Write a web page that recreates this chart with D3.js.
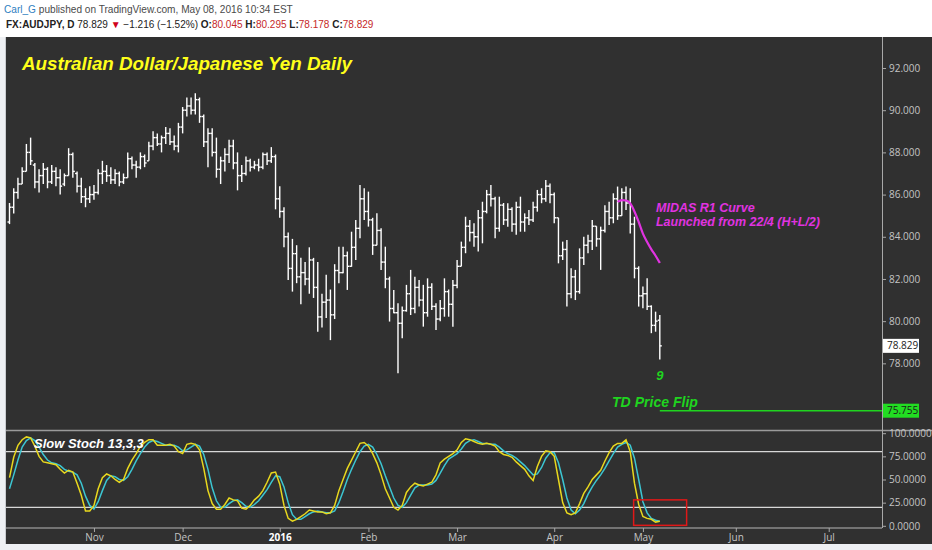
<!DOCTYPE html>
<html>
<head>
<meta charset="utf-8">
<script src="https://cdnjs.cloudflare.com/ajax/libs/d3/7.8.5/d3.min.js"></script>
<style>
  html, body { margin: 0; padding: 0; background: #ffffff; }
  svg { display: block; }
</style>
</head>
<body>
<svg id="chart" width="932" height="550"></svg>
<script>
// ---------------- DATA ----------------
const opens = [84.7,85.4,86.1,86.5,87.1,88.0,87.4,86.6,86.9,87.2,86.6,87.1,86.8,86.5,86.9,87.9,87.0,86.4,85.9,85.8,
86.0,86.1,87.0,87.1,86.9,86.7,87.0,86.6,86.8,87.7,87.4,87.3,87.8,87.6,88.3,88.7,88.4,88.7,88.9,88.5,
88.3,89.2,90.0,90.2,90.0,90.5,89.7,88.5,88.9,88.0,87.2,87.6,87.9,88.3,87.5,86.9,87.0,87.6,87.3,87.4,
87.3,87.9,87.6,87.8,85.8,85.2,84.0,82.5,83.2,82.1,82.3,82.0,82.9,81.6,80.2,80.9,81.0,80.3,82.4,82.3,
83.1,82.6,83.5,84.4,85.8,85.2,84.8,83.6,84.3,82.8,82.0,80.6,80.4,79.9,80.5,81.3,80.6,81.6,81.0,80.4,
81.6,80.7,80.1,80.6,81.4,80.8,81.7,82.6,83.5,84.5,84.2,84.0,84.9,85.2,86.0,85.8,84.4,85.5,84.8,85.3,
84.6,85.4,84.7,84.9,84.8,85.4,86.0,85.8,86.4,86.0,84.9,83.1,83.4,81.3,82.1,81.4,83.0,83.6,83.8,84.5,
83.9,84.3,85.2,84.9,85.8,85.0,86.1,85.6,84.6,82.5,81.2,81.3,80.7,79.8,80.045];
const highs = [85.6,86.3,86.8,87.3,88.4,88.7,87.5,87.2,87.5,87.3,87.4,87.3,87.2,87.0,88.2,88.0,87.1,86.8,86.3,86.4,
86.45,87.2,87.6,87.4,87.3,87.2,87.1,87.0,88.0,87.8,87.6,88.0,87.9,88.5,89.0,88.9,88.8,89.2,89.15,88.8,
89.4,90.15,90.6,90.6,90.8,90.6,89.8,89.15,89.15,88.7,87.8,88.2,88.6,88.6,88.0,87.4,87.8,87.7,87.6,87.7,
88.0,88.0,88.25,87.9,86.4,85.4,84.2,83.9,83.6,83.0,82.8,83.5,83.0,82.8,81.3,82.2,81.5,82.7,83.53,83.53,
83.3,84.24,84.8,86.45,86.3,86.14,84.9,85.11,84.4,83.53,82.11,81.48,80.85,80.69,81.72,82.43,82.11,81.95,81.72,82.03,
81.8,80.85,81.0,82.03,81.5,81.95,82.9,83.77,84.95,84.8,84.64,85.27,85.66,86.22,86.45,85.9,85.9,85.6,85.59,85.4,
85.66,85.9,85.11,85.27,85.66,86.22,86.3,86.69,86.53,86.1,84.9,83.77,83.85,82.51,82.43,83.45,84.0,84.09,84.8,84.5,
84.48,85.5,85.66,86.06,86.38,86.3,86.38,86.3,84.95,82.6,81.64,82.03,80.75,80.45,80.295];
const lows = [84.6,85.1,85.8,86.5,87.1,87.4,86.3,86.1,86.5,86.3,86.5,86.4,86.0,86.4,86.9,86.8,86.1,85.6,85.4,85.6,
85.75,86.0,86.5,86.6,86.5,86.5,86.4,86.5,86.8,87.2,86.8,87.2,87.3,87.6,88.1,88.3,88.0,88.4,88.35,88.1,
88.0,88.9,89.7,89.8,89.8,89.4,88.25,87.3,87.8,86.8,86.5,87.1,87.5,87.2,86.2,86.6,86.9,87.1,87.2,87.1,
87.2,87.4,87.5,85.3,84.9,83.5,81.95,81.4,81.8,80.8,81.7,81.3,81.1,79.5,79.7,80.15,79.1,80.1,81.8,82.27,
81.48,82.58,82.9,83.93,84.8,84.48,83.14,83.6,82.43,81.56,79.98,80.37,77.53,79.19,80.45,80.29,80.37,80.69,79.74,80.21,
80.53,79.58,80.0,80.21,80.21,79.74,81.56,82.6,83.22,83.77,83.53,83.3,83.69,85.11,85.43,83.93,84.24,84.56,84.48,84.24,
84.09,84.24,84.24,84.56,84.7,85.19,85.59,85.66,85.59,84.64,82.74,82.9,80.69,81.09,81.0,81.3,82.66,83.22,83.37,83.53,
82.43,84.2,84.56,84.64,84.8,85.0,85.27,84.16,82.03,80.69,80.61,80.53,79.43,79.5,78.178];
const closes = [85.4,86.1,86.5,87.1,88.0,87.6,86.6,86.9,87.2,86.6,87.1,86.8,86.4,86.9,87.9,87.1,86.4,85.9,85.8,86.0,
86.1,87.0,87.1,86.9,86.7,87.0,86.6,86.8,87.7,87.4,87.3,87.8,87.5,88.3,88.7,88.4,88.7,88.9,88.5,88.3,
89.2,90.0,90.2,90.0,90.5,89.7,88.5,88.9,88.0,87.2,87.6,87.9,88.3,87.5,86.9,87.0,87.6,87.3,87.4,87.3,
87.9,87.6,87.8,85.8,85.2,84.0,82.5,83.2,82.1,82.3,82.0,82.9,81.6,80.2,80.9,81.0,80.3,82.4,82.3,83.1,
82.6,83.5,84.4,85.8,85.2,84.8,83.6,84.3,82.8,82.0,80.6,80.4,79.9,80.5,81.3,80.6,81.6,81.0,80.4,81.6,
80.7,80.1,80.6,81.4,80.8,81.7,82.6,83.5,84.5,84.2,84.0,84.9,85.2,86.0,85.8,84.4,85.5,84.8,85.3,84.6,
85.4,84.7,84.9,84.8,85.4,86.0,85.8,86.4,86.0,84.9,83.1,83.4,81.3,82.1,81.4,83.0,83.6,83.8,84.5,83.9,
84.3,85.2,84.9,85.8,85.0,86.1,85.6,84.6,82.5,81.2,81.3,80.7,79.8,80.0,78.829];

// Slow Stochastic 13,3,3
const stochK = [52,74,87,93,96,95,86,75,69,68,67,66,61,57,60,58,46,33,16,16,
22,40,52,56,54,50,47,50,62,71,78,86,90,93,93,87,87,87,88,86,
80,78,88,89,88,82,62,38,24,18,18,23,30,28,27,19,18,22,28,32,
38,47,57,58,45,22,8,5,7,10,13,17,16,15,15,13,14,22,38,50,
62,71,80,89,90,86,78,68,55,40,30,20,17,22,36,42,46,44,43,45,
47,55,68,72,75,78,82,90,94,93,91,89,88,89,88,86,80,77,76,74,
69,65,61,54,49,64,75,81,80,75,50,25,14,12,14,24,35,42,50,55,
60,70,79,86,89,89,93,80,46,23,10,8,7,4,5];
const stochD = [40,55,71,85,92,95,92,85,77,71,68,67,65,61,59,58,55,46,32,22,
18,26,38,49,54,53,50,49,53,61,70,78,85,90,92,91,89,87,87,87,
85,81,82,85,88,86,77,61,41,27,20,20,24,27,28,25,21,20,23,27,
33,39,47,54,53,42,25,12,7,7,10,13,15,16,15,14,14,16,25,37,
50,61,71,80,86,88,85,77,67,54,42,30,22,20,25,33,41,44,44,44,
45,49,57,65,72,75,78,83,89,92,93,91,89,89,88,88,85,81,78,76,
73,69,65,60,55,56,63,73,79,79,68,50,30,17,13,17,24,34,42,49,
55,62,70,78,85,88,90,87,73,50,26,14,8,6,5];

const midasStart = 144;
const midasValues = [85.65,85.74,85.72,85.58,85.2,84.7,84.15,83.75,83.4,83.1,82.76];

const priceTicks = [76,78,80,82,84,86,88,90,92];
const stochTicks = [0,25,50,75,100];
const stochBands = [20,80];
const timeTickIdx = [20,41,64,85,106,129,150,172,194];
const timeTickLabels = ["Nov","Dec","2016","Feb","Mar","Apr","May","Jun","Jul"];

const lastPrice = 78.829;
const flipLevel = 75.755;

// ---------------- LAYOUT ----------------
const svg = d3.select("#chart");
const W = 932, H = 550;
const L = 6, R = 882;
const priceTop = 37, priceBot = 430;
const stTop = 431, stBot = 528;
const axisBot = 544;

const bg = "#303030";
const axisCol = "#a8a8a8";
const labelCol = "#c4c4c4";

svg.append("rect").attr("width", W).attr("height", H).attr("fill", "#ffffff");
svg.append("rect").attr("x", 0).attr("y", priceTop).attr("width", W).attr("height", H - priceTop).attr("fill", "#eef0f3");
svg.append("rect").attr("x", L).attr("y", priceTop).attr("width", W - L).attr("height", axisBot - priceTop).attr("fill", bg);
svg.append("line").attr("x1", L - 0.5).attr("x2", L - 0.5).attr("y1", priceTop).attr("y2", axisBot)
  .attr("stroke", "#c9ccd0").attr("stroke-width", 1);

const x = d3.scaleLinear().domain([0, 154]).range([9.5, 659.8]);
const y = d3.scaleLinear().domain([74.84, 93.47]).range([priceBot, priceTop]);
const ys = d3.scaleLinear().domain([0, 100]).range([525.8, 433.2]);

const defs = svg.append("defs");
defs.append("clipPath").attr("id", "pclip").append("rect")
  .attr("x", L).attr("y", priceTop).attr("width", R - L).attr("height", priceBot - priceTop);
defs.append("clipPath").attr("id", "sclip").append("rect")
  .attr("x", L).attr("y", stTop).attr("width", R - L).attr("height", stBot - stTop);

// ---------------- HEADER ----------------
const hdrFont = "'Liberation Sans', Arial, sans-serif";
const axFont = "'Open Sans', 'Liberation Sans', sans-serif";
function fitText(sel, target) {
  const n = sel.node();
  const w = n.getComputedTextLength();
  if (w > 0) {
    const fs = parseFloat(sel.attr("font-size"));
    sel.attr("font-size", (fs * target / w).toFixed(2));
  }
}
const h1 = svg.append("text").attr("x", 4).attr("y", 13).attr("font-family", hdrFont)
  .attr("font-size", 11.5).attr("fill", "#4a4a4a");
h1.append("tspan").attr("fill", "#2f7fc1").text("Carl_G");
h1.append("tspan").text(" published on TradingView.com, May 08, 2016 10:34 EST");
fitText(h1, 289);

const h2 = svg.append("text").attr("x", 6).attr("y", 28).attr("font-family", hdrFont)
  .attr("font-size", 11.5).attr("fill", "#222");
const red = "#c62828";
h2.append("tspan").attr("font-weight", "bold").text("FX:AUDJPY, D");
h2.append("tspan").text("  " + lastPrice.toFixed(3) + " ");
h2.append("tspan").attr("fill", "#d0021b").text("▼");
h2.append("tspan").text(" −1.216 (−1.52%)  ");
h2.append("tspan").attr("font-weight", "bold").text("O:");
h2.append("tspan").attr("fill", red).text(opens[154].toFixed(3));
h2.append("tspan").attr("font-weight", "bold").text(" H:");
h2.append("tspan").attr("fill", red).text(highs[154].toFixed(3));
h2.append("tspan").attr("font-weight", "bold").text(" L:");
h2.append("tspan").attr("fill", red).text(lows[154].toFixed(3));
h2.append("tspan").attr("font-weight", "bold").text(" C:");
h2.append("tspan").attr("fill", red).text(closes[154].toFixed(3));
fitText(h2, 368);

// ---------------- PRICE PANE ----------------
const pg = svg.append("g").attr("clip-path", "url(#pclip)");
const bars = pg.append("g").attr("stroke", "#ffffff").attr("stroke-width", 1.4).attr("fill", "none");
const idx = d3.range(closes.length);
bars.selectAll("g.bar").data(idx).join("g").attr("class", "bar").each(function(i) {
  const g = d3.select(this);
  const cx = x(i);
  g.append("line").attr("x1", cx).attr("x2", cx).attr("y1", y(highs[i])).attr("y2", y(lows[i]));
  g.append("line").attr("x1", cx - 2).attr("x2", cx).attr("y1", y(opens[i])).attr("y2", y(opens[i]));
  g.append("line").attr("x1", cx).attr("x2", cx + 2).attr("y1", y(closes[i])).attr("y2", y(closes[i]));
});

const midasLine = d3.line().x((d, k) => x(midasStart + k)).y(d => y(d)).curve(d3.curveMonotoneX);
pg.append("path").attr("d", midasLine(midasValues)).attr("fill", "none")
  .attr("stroke", "#e033e0").attr("stroke-width", 2.2);

pg.append("line").attr("x1", x(154)).attr("x2", R).attr("y1", y(flipLevel)).attr("y2", y(flipLevel))
  .attr("stroke", "#1fd41f").attr("stroke-width", 1.5);

const annFont = "'Liberation Sans', Arial, sans-serif";
const title = svg.append("text").attr("x", 22).attr("y", 70).attr("font-family", annFont)
  .attr("font-size", 20).attr("font-weight", "bold").attr("font-style", "italic")
  .attr("fill", "#ffff1a").text("Australian Dollar/Japanese Yen Daily");
fitText(title, 330);

svg.append("text").attr("x", 656).attr("y", 212).attr("font-family", annFont)
  .attr("font-size", 12.5).attr("font-weight", "bold").attr("font-style", "italic")
  .attr("fill", "#e033e0").text("MIDAS R1 Curve");
const mt2 = svg.append("text").attr("x", 656).attr("y", 226).attr("font-family", annFont)
  .attr("font-size", 12.5).attr("font-weight", "bold").attr("font-style", "italic")
  .attr("fill", "#e033e0").text("Launched from 22/4 (H+L/2)");
fitText(mt2, 164);

svg.append("text").attr("x", x(154)).attr("y", 380).attr("text-anchor", "middle").attr("font-family", annFont)
  .attr("font-size", 13).attr("font-weight", "bold").attr("font-style", "italic")
  .attr("fill", "#1fd41f").text("9");
const tdf = svg.append("text").attr("x", 612).attr("y", 407).attr("font-family", annFont)
  .attr("font-size", 13).attr("font-weight", "bold").attr("font-style", "italic")
  .attr("fill", "#1fd41f").text("TD Price Flip");
fitText(tdf, 86);

// price axis (76.000 sits behind the flip-level label, so only its tick is drawn)
const pAxis = d3.axisRight(y).tickValues(priceTicks)
  .tickFormat(d => d === 76 ? "" : d3.format(".3f")(d)).tickSize(4).tickPadding(3);
const pa = svg.append("g").attr("transform", `translate(${R},0)`).call(pAxis);
pa.select(".domain").remove();
pa.selectAll(".tick line").attr("stroke", axisCol);
pa.selectAll(".tick text").attr("fill", labelCol).attr("font-size", 10).attr("font-family", axFont);

function priceBox(val, fill, txtFill) {
  const g = svg.append("g").attr("transform", `translate(${R + 1},${y(val)})`);
  g.append("rect").attr("x", 0).attr("y", -7).attr("width", 36).attr("height", 14).attr("fill", fill);
  g.append("text").attr("x", 4).attr("y", 0).attr("dy", "0.35em").attr("font-size", 10)
    .attr("font-family", axFont).attr("fill", txtFill).text(val.toFixed(3));
}
priceBox(lastPrice, "#ffffff", "#222");
priceBox(flipLevel, "#22dd22", "#1a1a1a");

// ---------------- STOCH PANE ----------------
svg.append("line").attr("x1", L).attr("x2", W).attr("y1", priceBot + 0.5).attr("y2", priceBot + 0.5)
  .attr("stroke", "#9a9a9a").attr("stroke-width", 1.5);
svg.append("line").attr("x1", L).attr("x2", R).attr("y1", stBot).attr("y2", stBot)
  .attr("stroke", "#8a8a8a").attr("stroke-width", 1.5);

const sg = svg.append("g").attr("clip-path", "url(#sclip)");
sg.selectAll("line.band").data(stochBands).join("line").attr("class", "band")
  .attr("x1", L).attr("x2", R).attr("y1", d => ys(d)).attr("y2", d => ys(d))
  .attr("stroke", "#d8d8d8").attr("stroke-width", 1.2);

const kLine = d3.line().x((d, i) => x(i)).y(d => ys(d));
sg.append("path").attr("d", kLine(stochD)).attr("fill", "none").attr("stroke", "#3cc6d2").attr("stroke-width", 1.5);
sg.append("path").attr("d", kLine(stochK)).attr("fill", "none").attr("stroke", "#e8d81e").attr("stroke-width", 1.5);

svg.append("text").attr("x", 34).attr("y", 448).attr("font-family", annFont)
  .attr("font-size", 13).attr("font-weight", "bold").attr("font-style", "italic")
  .attr("fill", "#ffffff").text("Slow Stoch 13,3,3");

svg.append("rect").attr("x", x(147.8)).attr("y", ys(28)).attr("width", 53).attr("height", ys(0.5) - ys(28))
  .attr("fill", "none").attr("stroke", "#e01818").attr("stroke-width", 1.5);

const sAxis = d3.axisRight(ys).tickValues(stochTicks).tickFormat(d3.format(".4f")).tickSize(4).tickPadding(3);
const sa = svg.append("g").attr("transform", `translate(${R},0)`).call(sAxis);
sa.select(".domain").remove();
sa.selectAll(".tick line").attr("stroke", axisCol);
sa.selectAll(".tick text").attr("fill", labelCol).attr("font-size", 10).attr("font-family", axFont);

svg.append("line").attr("x1", R + 0.5).attr("x2", R + 0.5).attr("y1", priceTop).attr("y2", stBot)
  .attr("stroke", axisCol).attr("stroke-width", 1);

// ---------------- TIME AXIS ----------------
const tAxis = d3.axisBottom(x).tickValues(timeTickIdx)
  .tickFormat((d, i) => timeTickLabels[i]).tickSize(4).tickPadding(2);
const ta = svg.append("g").attr("transform", `translate(0,${stBot})`).call(tAxis);
ta.select(".domain").remove();
ta.selectAll(".tick line").attr("stroke", axisCol);
ta.selectAll(".tick text").attr("font-size", 10).attr("font-family", axFont)
  .attr("font-weight", (d, i) => timeTickLabels[i] === "2016" ? "bold" : "normal")
  .attr("fill", (d, i) => timeTickLabels[i] === "2016" ? "#ffffff" : labelCol);
</script>
</body>
</html>
